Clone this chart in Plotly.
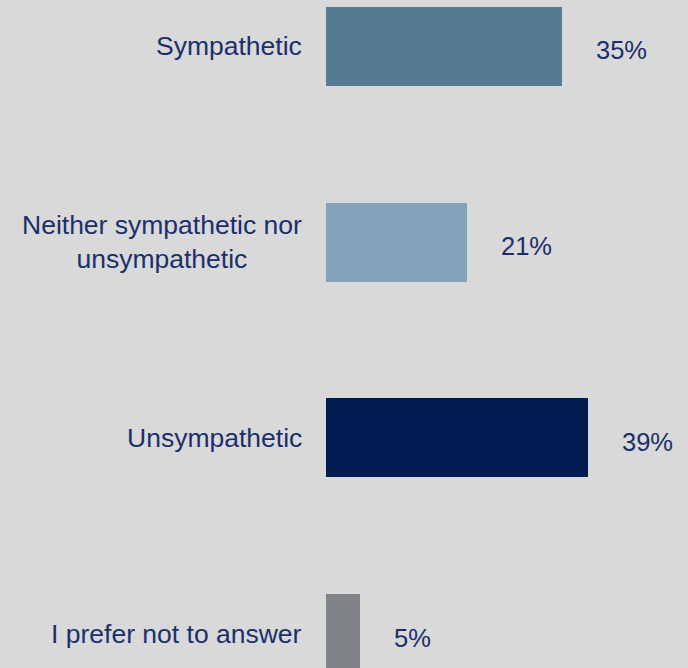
import plotly.graph_objects as go

# Survey responses (share of respondents, %)
categories = [
    "Sympathetic",
    "Neither sympathetic nor<br>unsympathetic",
    "Unsympathetic",
    "I prefer not to answer",
]
values = [35, 21, 39, 5]
value_labels = ["35%", "21%", "39%", "5%"]
bar_colors = ["#557a94", "#81a2b8", "#001c50", "#808488"]

TEXT_COLOR = "#1b2f6e"
BG = "#d9d9d9"
FONT = "Liberation Sans, Arial, sans-serif"

positions = list(range(len(categories)))

fig = go.Figure(
    go.Bar(
        x=values,
        y=positions,
        orientation="h",
        marker=dict(color=bar_colors, line=dict(width=0)),
        width=0.404,
        hoverinfo="skip",
    )
)

# Category labels left of the bars (multi-line text centred within its block)
for pos, cat in zip(positions, categories):
    fig.add_annotation(
        x=0, y=pos, xref="paper", yref="y",
        text=cat, showarrow=False,
        xanchor="right", yanchor="middle", align="center",
        xshift=-22,
        font=dict(family=FONT, size=26.5, color=TEXT_COLOR),
    )

# Percentage labels to the right of each bar
for pos, val, lab in zip(positions, values, value_labels):
    fig.add_annotation(
        x=val, y=pos, xref="x", yref="y",
        text=lab, showarrow=False,
        xanchor="left", yanchor="middle",
        xshift=32, yshift=-4,
        font=dict(family=FONT, size=25.5, color=TEXT_COLOR),
    )

fig.update_layout(
    width=688, height=668,
    margin=dict(l=326, r=0, t=0, b=0),
    paper_bgcolor=BG, plot_bgcolor=BG,
    showlegend=False,
    bargap=0,
    xaxis=dict(
        range=[0, 362 / 6.73],
        visible=False,
        fixedrange=True,
    ),
    yaxis=dict(
        range=[3.176, -0.237],
        tickvals=positions,
        showticklabels=False,
        ticks="",
        showgrid=False,
        zeroline=False,
        showline=False,
        automargin=False,
        fixedrange=True,
    ),
)

fig.write_html("out.html")
